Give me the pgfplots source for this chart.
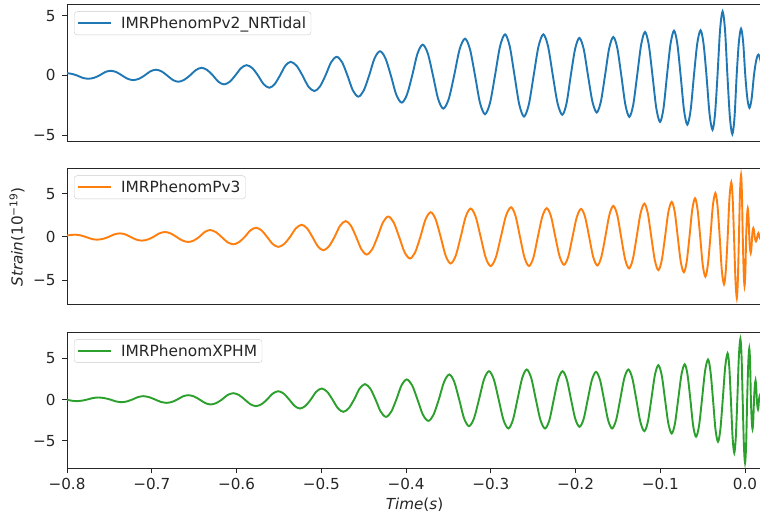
\documentclass[border=0pt]{standalone}
\usepackage{pgfplots}
\usepackage{pgfplotstable}
\usepackage{fontspec}
\setmainfont{DejaVu Sans}
\pgfplotsset{compat=1.18}
\definecolor{c0}{HTML}{1F77B4}
\definecolor{c1}{HTML}{FF7F0E}
\definecolor{c2}{HTML}{2CA02C}

% IMRPhenomPv2_NRTidal
\pgfplotstableread{
t y
-0.8015 0.20
-0.7949 0.14
-0.7882 0
-0.7816 -0.20
-0.7749 -0.28
-0.7683 -0.20
-0.7617 0
-0.7550 0.28
-0.7484 0.39
-0.7418 0.28
-0.7351 0
-0.7285 -0.28
-0.7218 -0.39
-0.7151 -0.28
-0.7084 0
-0.7017 0.34
-0.6950 0.48
-0.6884 0.34
-0.6819 0
-0.6753 -0.37
-0.6687 -0.53
-0.6618 -0.37
-0.6549 0
-0.6480 0.45
-0.6411 0.64
-0.6345 0.45
-0.6279 0
-0.6213 -0.53
-0.6147 -0.75
-0.6080 -0.53
-0.6014 0
-0.5947 0.61
-0.5880 0.86
-0.5813 0.61
-0.5747 0
-0.5680 -0.73
-0.5613 -1.03
-0.5550 -0.73
-0.5487 0
-0.5424 0.81
-0.5361 1.14
-0.5291 0.81
-0.5222 0
-0.5152 -0.93
-0.5082 -1.31
-0.5016 -0.93
-0.4950 0
-0.4884 1.10
-0.4818 1.56
-0.4754 1.10
-0.4691 0
-0.4627 -1.26
-0.4563 -1.78
-0.4499 -1.26
-0.4435 0
-0.4371 1.44
-0.4307 2.03
-0.4243 1.44
-0.4179 0
-0.4115 -1.61
-0.4051 -2.28
-0.3989 -1.61
-0.3927 0
-0.3865 1.82
-0.3803 2.58
-0.3742 1.82
-0.3682 0
-0.3621 -1.97
-0.3560 -2.78
-0.3496 -1.97
-0.3432 0
-0.3368 2.18
-0.3304 3.08
-0.3245 2.18
-0.3186 0
-0.3127 -2.30
-0.3068 -3.25
-0.3009 -2.30
-0.2950 0
-0.2891 2.43
-0.2832 3.44
-0.2776 2.43
-0.2720 0
-0.2664 -2.43
-0.2608 -3.44
-0.2551 -2.43
-0.2494 0
-0.2437 2.43
-0.2380 3.44
-0.2324 2.43
-0.2268 0
-0.2212 -2.33
-0.2156 -3.30
-0.2106 -2.33
-0.2056 0
-0.2005 2.22
-0.1955 3.14
-0.1904 2.22
-0.1853 0
-0.1801 -2.19
-0.1750 -3.10
-0.1701 -2.19
-0.1652 0
-0.1603 2.28
-0.1554 3.22
-0.1507 2.28
-0.1460 0
-0.1412 -2.45
-0.1365 -3.47
-0.1319 -2.45
-0.1273 0
-0.1226 2.57
-0.1180 3.64
-0.1136 2.57
-0.1092 0
-0.1047 -2.75
-0.1003 -3.89
-0.0962 -2.75
-0.0921 0
-0.0879 2.65
-0.0838 3.75
-0.0799 2.65
-0.0760 0
-0.0720 -2.91
-0.0681 -4.12
-0.0642 -2.91
-0.0603 0
-0.0564 2.67
-0.0525 3.78
-0.0490 2.67
-0.0455 0
-0.0419 -3.22
-0.0384 -4.55
-0.0354 -3.22
-0.0325 0
-0.0295 3.79
-0.0265 5.36
-0.0236 3.79
-0.0208 0
-0.0179 -3.48
-0.0150 -4.92
-0.0124 -3.48
-0.0099 0
-0.0073 2.77
-0.0047 3.92
-0.0022 2.77
0.0003 0
0.0027 -1.92
0.0052 -2.72
0.0078 -1.92
0.0105 0
0.0131 1.24
0.0157 1.75
0.0183 1.24
0.0209 0
}\nrtidal

% IMRPhenomPv3
\pgfplotstableread{
t y
-0.8176 -0.20
-0.8109 -0.14
-0.8041 0.10
-0.7974 0.21
-0.7906 0.27
-0.7841 0.19
-0.7776 0
-0.7711 -0.22
-0.7646 -0.31
-0.7578 -0.22
-0.7511 0
-0.7443 0.30
-0.7375 0.42
-0.7311 0.30
-0.7247 0
-0.7183 -0.30
-0.7119 -0.42
-0.7050 -0.30
-0.6982 0
-0.6913 0.41
-0.6844 0.58
-0.6775 0.41
-0.6707 0
-0.6638 -0.41
-0.6569 -0.58
-0.6505 -0.41
-0.6441 0
-0.6377 0.57
-0.6313 0.81
-0.6244 0.57
-0.6176 0
-0.6107 -0.60
-0.6038 -0.85
-0.5971 -0.60
-0.5904 0
-0.5837 0.76
-0.5770 1.08
-0.5704 0.76
-0.5639 0
-0.5573 -0.81
-0.5507 -1.15
-0.5438 -0.81
-0.5369 0
-0.5300 1.00
-0.5231 1.42
-0.5167 1.00
-0.5104 0
-0.5040 -1.09
-0.4976 -1.54
-0.4910 -1.09
-0.4844 0
-0.4778 1.31
-0.4712 1.85
-0.4650 1.31
-0.4588 0
-0.4526 -1.44
-0.4464 -2.04
-0.4400 -1.44
-0.4337 0
-0.4273 1.68
-0.4209 2.38
-0.4145 1.68
-0.4081 0
-0.4017 -1.77
-0.3953 -2.50
-0.3892 -1.77
-0.3831 0
-0.3770 2.04
-0.3709 2.88
-0.3650 2.04
-0.3591 0
-0.3532 -2.18
-0.3473 -3.08
-0.3414 -2.18
-0.3355 0
-0.3296 2.34
-0.3237 3.31
-0.3178 2.34
-0.3119 0
-0.3060 -2.39
-0.3001 -3.38
-0.2941 -2.39
-0.2881 0
-0.2821 2.45
-0.2761 3.46
-0.2708 2.45
-0.2655 0
-0.2602 -2.39
-0.2549 -3.38
-0.2497 -2.39
-0.2445 0
-0.2392 2.37
-0.2340 3.35
-0.2289 2.37
-0.2238 0
-0.2187 -2.28
-0.2136 -3.23
-0.2086 -2.28
-0.2036 0
-0.1985 2.31
-0.1935 3.27
-0.1887 2.31
-0.1839 0
-0.1791 -2.34
-0.1743 -3.31
-0.1696 -2.34
-0.1649 0
-0.1601 2.56
-0.1554 3.62
-0.1508 2.56
-0.1462 0
-0.1415 -2.58
-0.1369 -3.65
-0.1324 -2.58
-0.1279 0
-0.1233 2.74
-0.1188 3.88
-0.1147 2.74
-0.1106 0
-0.1064 -2.72
-0.1023 -3.85
-0.0983 -2.72
-0.0944 0
-0.0905 2.88
-0.0865 4.08
-0.0829 2.88
-0.0794 0
-0.0758 -2.90
-0.0722 -4.10
-0.0689 -2.90
-0.0656 0
-0.0623 3.18
-0.0590 4.50
-0.0560 3.18
-0.0529 0
-0.0499 -3.25
-0.0468 -4.60
-0.0439 -3.25
-0.0409 0
-0.0380 3.61
-0.0350 5.10
-0.0325 3.61
-0.0299 0
-0.0274 -3.89
-0.0248 -5.50
-0.0227 -3.89
-0.0205 0
-0.0184 4.50
-0.0162 6.36
-0.0146 4.50
-0.0130 0
-0.0113 -5.02
-0.0097 -7.10
-0.0085 -5.02
-0.0072 0
-0.0060 5.08
-0.0047 7.19
-0.0037 5.08
-0.0027 0
-0.0016 -4.03
-0.0006 -5.70
0.0004 -4.03
0.0013 0
0.0023 2.36
0.0032 3.34
0.0041 2.36
0.0050 0
0.0058 -1.31
0.0067 -1.85
0.0075 -1.31
0.0083 0
0.0090 0.74
0.0098 1.04
0.0106 0.74
0.0114 0
0.0122 -0.35
0.0130 -0.50
0.0137 -0.35
0.0144 0
0.0150 0.33
0.0157 0.46
0.0164 0.33
0.0170 0
0.0177 -0.18
0.0183 -0.25
0.0190 -0.18
0.0196 0
0.0209 0.15
}\pvthree

% IMRPhenomXPHM
\pgfplotstableread{
t y
-0.8141 0.15
-0.8077 0.11
-0.8014 0
-0.7950 -0.14
-0.7886 -0.20
-0.7822 -0.14
-0.7759 0
-0.7695 0.17
-0.7631 0.24
-0.7562 0.17
-0.7493 0
-0.7424 -0.23
-0.7355 -0.33
-0.7291 -0.23
-0.7228 0
-0.7164 0.28
-0.7100 0.40
-0.7031 0.28
-0.6962 0
-0.6893 -0.29
-0.6824 -0.41
-0.6760 -0.29
-0.6697 0
-0.6633 0.37
-0.6569 0.52
-0.6503 0.37
-0.6437 0
-0.6370 -0.43
-0.6304 -0.61
-0.6238 -0.43
-0.6171 0
-0.6105 0.54
-0.6038 0.76
-0.5971 0.54
-0.5904 0
-0.5837 -0.57
-0.5770 -0.81
-0.5704 -0.57
-0.5639 0
-0.5573 0.71
-0.5507 1.00
-0.5443 0.71
-0.5379 0
-0.5315 -0.78
-0.5251 -1.10
-0.5187 -0.78
-0.5123 0
-0.5059 0.94
-0.4995 1.33
-0.4931 0.94
-0.4868 0
-0.4804 -1.06
-0.4740 -1.50
-0.4676 -1.06
-0.4612 0
-0.4548 1.32
-0.4484 1.86
-0.4422 1.32
-0.4360 0
-0.4298 -1.49
-0.4236 -2.11
-0.4175 -1.49
-0.4114 0
-0.4053 1.72
-0.3992 2.43
-0.3928 1.72
-0.3865 0
-0.3801 -1.84
-0.3737 -2.60
-0.3675 -1.84
-0.3613 0
-0.3551 2.14
-0.3489 3.03
-0.3431 2.14
-0.3373 0
-0.3315 -2.29
-0.3257 -3.24
-0.3198 -2.29
-0.3139 0
-0.3080 2.43
-0.3021 3.43
-0.2964 2.43
-0.2907 0
-0.2850 -2.49
-0.2793 -3.52
-0.2739 -2.49
-0.2685 0
-0.2630 2.57
-0.2576 3.64
-0.2522 2.57
-0.2468 0
-0.2414 -2.49
-0.2360 -3.52
-0.2308 -2.49
-0.2257 0
-0.2205 2.43
-0.2153 3.43
-0.2103 2.43
-0.2053 0
-0.2003 -2.35
-0.1953 -3.32
-0.1904 -2.35
-0.1856 0
-0.1807 2.37
-0.1758 3.35
-0.1711 2.37
-0.1664 0
-0.1616 -2.49
-0.1569 -3.52
-0.1521 -2.49
-0.1473 0
-0.1425 2.57
-0.1377 3.64
-0.1330 2.57
-0.1283 0
-0.1235 -2.72
-0.1188 -3.85
-0.1147 -2.72
-0.1106 0
-0.1064 2.94
-0.1023 4.16
-0.0983 2.94
-0.0944 0
-0.0905 -2.92
-0.0865 -4.13
-0.0827 -2.92
-0.0789 0
-0.0750 3.02
-0.0712 4.27
-0.0679 3.02
-0.0645 0
-0.0612 -3.20
-0.0578 -4.52
-0.0543 -3.20
-0.0508 0
-0.0472 3.43
-0.0437 4.85
-0.0408 3.43
-0.0378 0
-0.0349 -3.62
-0.0319 -5.12
-0.0291 -3.62
-0.0263 0
-0.0234 3.96
-0.0206 5.60
-0.0186 3.96
-0.0167 0
-0.0147 -4.58
-0.0127 -6.48
-0.0109 -4.58
-0.0091 0
-0.0073 5.19
-0.0055 7.34
-0.0041 5.19
-0.0028 0
-0.0014 -5.44
0.0000 -7.70
0.0013 -5.44
0.0025 0
0.0038 4.38
0.0050 6.20
0.0060 4.38
0.0069 0
0.0079 -2.55
0.0088 -3.60
0.0097 -2.55
0.0106 0
0.0115 1.63
0.0124 2.30
0.0131 1.63
0.0139 0
0.0146 -0.85
0.0153 -1.20
0.0159 -0.85
0.0165 0
0.0171 0.40
0.0177 0.55
0.0183 0.40
0.0189 0
0.0195 -0.30
0.0209 -0.40
}\xphm

\pgfplotsset{
  panel/.style={
    scale only axis,
    width=695pt,
    xmin=-0.8, xmax=0.02,
    axis line style={black!85, line width=1pt},
    tick style={black!85, line width=1pt},
    tick align=outside,
    major tick length=5pt,
    xtick pos=bottom, ytick pos=left,
    ytick={-5,0,5},
    yticklabels={−5,0,5},
    tick label style={font=\fontsize{15.2}{18}\selectfont, text=black!85},
    yticklabel style={xshift=-3pt},
    legend cell align=left,
    legend style={at={(0,1)}, anchor=north west, xshift=7pt, yshift=-6.5pt,
      draw=black!20, rounded corners=3pt, fill=white,
      inner xsep=3pt, inner ysep=3pt,
      font=\fontsize{15.4}{18}\selectfont, text=black!85},
    legend image code/.code={\draw[##1] (0pt,0pt) -- (33pt,0pt); \path (40pt,0pt);},
  },
  wave/.style={line width=1.9pt, smooth, no markers},
}

\begin{document}
\begin{tikzpicture}
\fill[white] (0pt,0pt) rectangle (760pt,512pt);
\useasboundingbox (0pt,0pt) rectangle (760pt,512pt);

\begin{axis}[panel, at={(67pt,507pt)}, anchor=north west, height=136.7pt,
  ymin=-5.55, ymax=5.9, xtick=\empty]
\addplot[c0, wave] table[x=t,y=y] {\nrtidal};
\addlegendentry{IMRPhenomPv2\_NRTidal}
\end{axis}

\begin{axis}[panel, at={(67pt,343pt)}, anchor=north west, height=136pt,
  ymin=-7.9, ymax=7.9, xtick=\empty,
  ylabel={\textit{Strain}(10\textsuperscript{−19})},
  ylabel style={at={(axis description cs:-0.072,0.5)}, anchor=center,
    font=\fontsize{15.2}{18}\selectfont, text=black!85}]
\addplot[c1, wave] table[x=t,y=y] {\pvthree};
\addlegendentry{IMRPhenomPv3}
\end{axis}

\begin{axis}[panel, at={(67pt,179.3pt)}, anchor=north west, height=135.6pt,
  ymin=-8.35, ymax=8.1,
  xtick={-0.8,-0.7,-0.6,-0.5,-0.4,-0.3,-0.2,-0.1,0},
  xticklabels={−0.8,−0.7,−0.6,−0.5,−0.4,−0.3,−0.2,−0.1,0.0},
  xticklabel style={yshift=-1pt},
  xlabel={\textit{Time}(\textit{s})},
  xlabel style={font=\fontsize{15.2}{18}\selectfont, text=black!85, yshift=-2pt}]
\addplot[c2, wave] table[x=t,y=y] {\xphm};
\addlegendentry{IMRPhenomXPHM}
\end{axis}
\end{tikzpicture}
\end{document}
